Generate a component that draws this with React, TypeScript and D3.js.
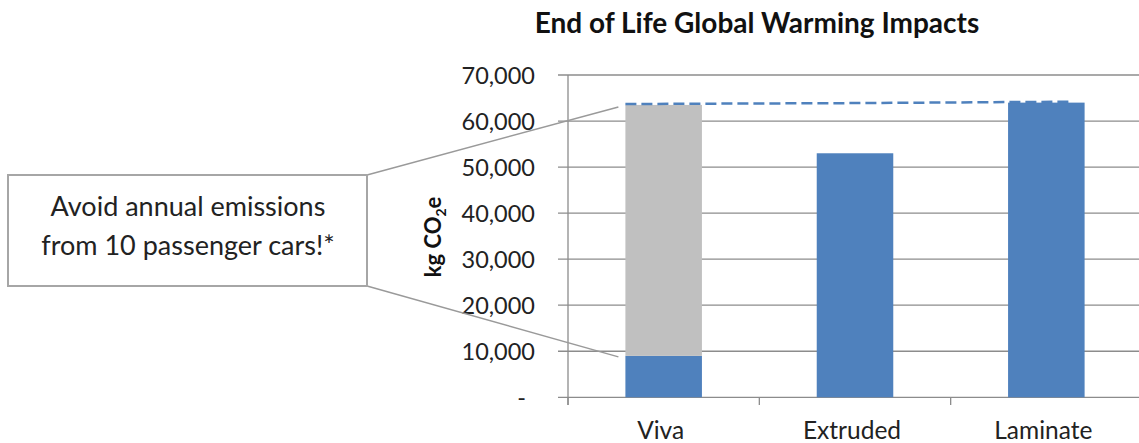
import React, { useEffect } from 'react';
import * as d3 from 'd3';

const categories = ['Viva', 'Extruded', 'Laminate'];
const baseValues = [9000, 53000, 64000];
const avoidedValues = [54500, 0, 0];
const yTicks = [0, 10000, 20000, 30000, 40000, 50000, 60000, 70000];
// dashed reference line: [category, offset within band (0..1), value]
const dashPoints: [string, number, number][] = [
  ['Viva', 0, 63700],
  ['Extruded', 0.5, 63900],
  ['Laminate', 0.8, 64200],
];

const W = 1139;
const H = 443;
const FONT = 'Lato, "Open Sans", sans-serif';

const App = () => {
  useEffect(() => {
    document.body.style.margin = '0';
  }, []);

  const x = d3.scaleBand().domain(categories).range([568, 1142]).paddingInner(0.6).paddingOuter(0.3);
  const y = d3.scaleLinear().domain([0, 70000]).range([397.3, 75]);
  const fmt = d3.format(',');

  const dashLine = d3
    .line<[string, number, number]>()
    .x((d) => (x(d[0]) as number) + x.bandwidth() * d[1])
    .y((d) => y(d[2]));

  const vivaX = x('Viva') as number;

  return (
    <svg width={W} height={H} style={{ display: 'block', fontFamily: FONT }}>
      <text x={757} y={33} textAnchor="middle" fontWeight="bold" fontSize={28} fill="#111">
        End of Life Global Warming Impacts
      </text>

      {/* gridlines + y ticks */}
      {yTicks.map((t) => (
        <g key={t}>
          <line x1={558} x2={W} y1={y(t)} y2={y(t)} stroke="#8c8c8c" strokeWidth={1.3} />
          <text x={t === 0 ? 526 : 535} y={y(t) + 8.5} textAnchor="end" fontSize={23.5} fill="#222">
            {t === 0 ? '-' : fmt(t)}
          </text>
        </g>
      ))}

      {/* axis line and category ticks */}
      <line x1={568} x2={568} y1={75} y2={405} stroke="#8c8c8c" strokeWidth={1.3} />
      {categories.map((c) => {
        const bx = (x(c) as number) - (x.step() * x.paddingInner()) / 2;
        return <line key={c} x1={bx} x2={bx} y1={397.3} y2={405} stroke="#8c8c8c" strokeWidth={1.3} />;
      })}

      {/* bars */}
      {categories.map((c, i) => (
        <g key={c}>
          <rect x={x(c)} width={x.bandwidth()} y={y(baseValues[i])} height={y(0) - y(baseValues[i])} fill="#4f81bd" />
          {avoidedValues[i] > 0 && (
            <rect
              x={x(c)}
              width={x.bandwidth()}
              y={y(baseValues[i] + avoidedValues[i])}
              height={y(baseValues[i]) - y(baseValues[i] + avoidedValues[i])}
              fill="#c0c0c0"
            />
          )}
          <text x={(x(c) as number) + x.bandwidth() / 2 - 3} y={439} textAnchor="middle" fontSize={24.5} fill="#222">
            {c}
          </text>
        </g>
      ))}

      <path d={dashLine(dashPoints) as string} fill="none" stroke="#4f81bd" strokeWidth={2.5} strokeDasharray="11,5" />

      {/* y axis title */}
      <text transform="translate(441,237) rotate(-90)" textAnchor="middle" fontWeight="bold" fontSize={22} fill="#111">
        kg CO<tspan fontSize={14} dy={5}>2</tspan>
        <tspan dy={-5}>e</tspan>
      </text>

      {/* callout */}
      <line x1={367} y1={175} x2={vivaX - 7} y2={y(63500) + 2} stroke="#9a9a9a" strokeWidth={1.5} />
      <line x1={367} y1={286} x2={vivaX - 7} y2={y(9000) + 1} stroke="#9a9a9a" strokeWidth={1.5} />
      <rect x={8} y={175} width={359} height={111} fill="#fff" stroke="#a6a6a6" strokeWidth={2} />
      <text x={188} y={216} textAnchor="middle" fontSize={27} fill="#222">
        Avoid annual emissions
      </text>
      <text x={188} y={255} textAnchor="middle" fontSize={27} fill="#222">
        from 10 passenger cars!*
      </text>
    </svg>
  );
};

export default App;
